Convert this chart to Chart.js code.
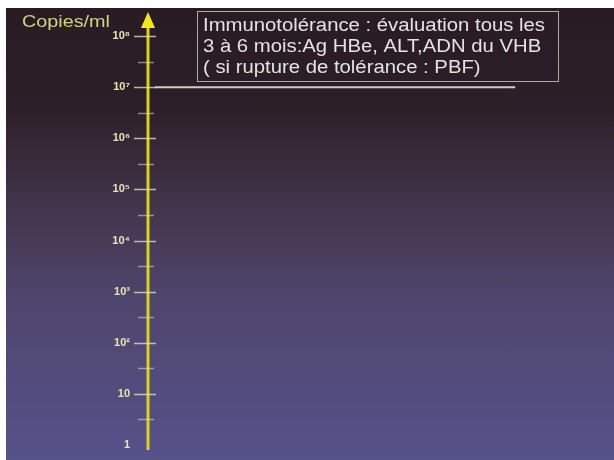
<!DOCTYPE html>
<html>
<head>
<meta charset="utf-8">
<script src="https://cdn.jsdelivr.net/npm/chart.js@4"></script>
<style>
  html, body { margin: 0; padding: 0; background: #fff; }
  #frame {
    position: absolute; left: 6px; top: 8px; width: 608px; height: 452px;
    background: linear-gradient(to bottom, #291b22 0%, #2d1f28 22%, #413348 42%, #4f466e 65%, #56528a 100%);
  }
  canvas { display: block; }
</style>
</head>
<body>
<div id="frame"><canvas id="chart" width="608" height="452"></canvas></div>
<script>
// Axis ticks (log scale, copies/ml)
const majorTicks = [1, 10, 1e2, 1e3, 1e4, 1e5, 1e6, 1e7, 1e8];
const tickLabels = ['1', '10', '10²', '10³', '10⁴', '10⁵', '10⁶', '10⁷', '10⁸'];
const minorTicks = [3.16, 31.6, 316, 3162, 31623, 316228, 3162278, 31622777];

// Threshold line at 10^7
const thresholdX = [1.5, 78.8];
const thresholdY = [1e7, 1e7];

const boxLines = [
  'Immunotolérance : évaluation tous les',
  '3 à 6 mois:Ag HBe, ALT,ADN du VHB',
  '( si rupture de tolérance : PBF)'
];
const axisTitle = 'Copies/ml';

// draw text stretched horizontally so it spans the given width
function stretchedText(ctx, text, x, y, scaleX) {
  ctx.save();
  ctx.translate(x, y);
  ctx.scale(scaleX, 1);
  ctx.fillText(text, 0, 0);
  ctx.restore();
}

const slidePlugin = {
  id: 'slide',
  afterDatasetsDraw(chart) {
    const ctx = chart.ctx;
    const y = chart.scales.y;
    const x0 = chart.chartArea.left;
    const yBottom = y.getPixelForValue(1);
    const yTop = y.getPixelForValue(1e8);

    // yellow axis
    ctx.save();
    ctx.strokeStyle = '#d9d21e';
    ctx.lineWidth = 3;
    ctx.beginPath();
    ctx.moveTo(x0, yBottom + 5);
    ctx.lineTo(x0, yTop - 10);
    ctx.stroke();

    // arrow head
    ctx.fillStyle = '#f2e623';
    ctx.beginPath();
    ctx.moveTo(x0, yTop - 24);
    ctx.lineTo(x0 - 7, yTop - 8);
    ctx.lineTo(x0 + 7, yTop - 8);
    ctx.closePath();
    ctx.fill();

    // tick marks
    ctx.strokeStyle = 'rgba(225,220,190,0.8)';
    ctx.lineWidth = 1.5;
    majorTicks.forEach(v => {
      if (v === 1) return;
      const py = Math.round(y.getPixelForValue(v)) + 0.5;
      ctx.beginPath();
      ctx.moveTo(x0 - 14, py);
      ctx.lineTo(x0 + 8, py);
      ctx.stroke();
    });
    ctx.strokeStyle = 'rgba(225,220,190,0.55)';
    minorTicks.forEach(v => {
      const py = Math.round(y.getPixelForValue(v)) + 0.5;
      ctx.beginPath();
      ctx.moveTo(x0 - 10, py);
      ctx.lineTo(x0 + 6, py);
      ctx.stroke();
    });

    // axis title
    ctx.fillStyle = '#d6cf86';
    ctx.font = '16px "Liberation Sans", Arial, sans-serif';
    ctx.textBaseline = 'middle';
    ctx.textAlign = 'left';
    stretchedText(ctx, axisTitle, 16, 15, 88 / ctx.measureText(axisTitle).width);

    // text box
    const bx = 191, by = 3, bw = 361, bh = 70;
    ctx.strokeStyle = 'rgba(210,205,200,0.8)';
    ctx.lineWidth = 1;
    ctx.strokeRect(bx + 0.5, by + 0.5, bw, bh);
    ctx.fillStyle = '#e6e2e2';
    ctx.font = '18px "Liberation Sans", Arial, sans-serif';
    const sx = 342 / ctx.measureText(boxLines[0]).width;
    boxLines.forEach((line, i) => {
      stretchedText(ctx, line, bx + 6, by + 15 + i * 21, sx);
    });
    ctx.restore();
  }
};

new Chart(document.getElementById('chart'), {
  type: 'line',
  data: {
    datasets: [{
      data: thresholdX.map((x, i) => ({ x: x, y: thresholdY[i] })),
      borderColor: '#d2cbbd',
      borderWidth: 2,
      pointRadius: 0
    }]
  },
  options: {
    responsive: false,
    animation: false,
    events: [],
    layout: { padding: { top: 28, bottom: 15, right: 0, left: 0 } },
    plugins: { legend: { display: false }, tooltip: { enabled: false } },
    scales: {
      x: { type: 'linear', min: 0, max: 100, display: false },
      y: {
        type: 'logarithmic',
        min: 1,
        max: 1e8,
        afterFit(scale) { scale.width = 142; },
        afterBuildTicks(scale) {
          scale.ticks = majorTicks.map(v => ({ value: v }));
        },
        // tick marks are drawn by the plugin; tickLength only offsets the labels
        grid: { display: false, drawTicks: true, tickLength: 14 },
        border: { display: false },
        ticks: {
          padding: 4,
          color: '#e8e2b8',
          font: { family: '"Liberation Sans", Arial, sans-serif', size: 11, weight: 'bold' },
          callback(value) {
            const i = majorTicks.indexOf(value);
            return i >= 0 ? tickLabels[i] : '';
          }
        }
      }
    }
  },
  plugins: [slidePlugin]
});
</script>
</body>
</html>
